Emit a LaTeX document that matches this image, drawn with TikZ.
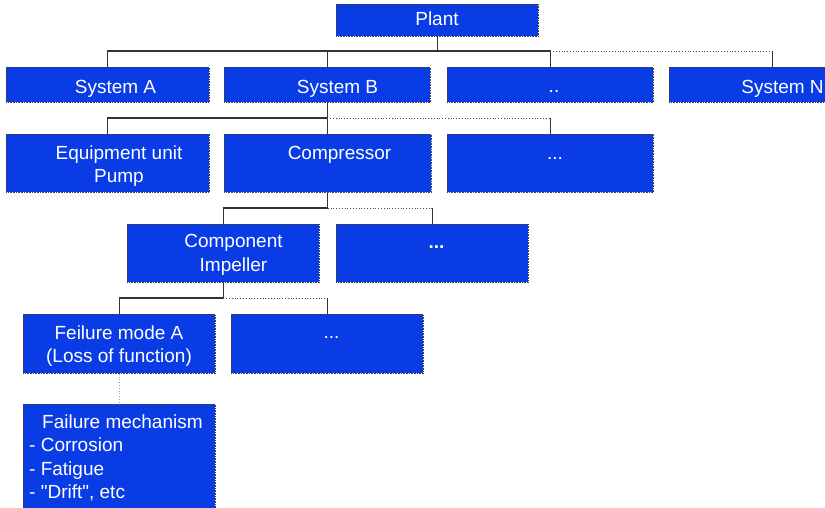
\documentclass[tikz,border=0pt]{standalone}
\usepackage{fontspec}
\setmainfont{Liberation Sans}[Ligatures=TeXOff]
\definecolor{boxblue}{RGB}{10,60,230}
\tikzset{
  blk/.style={draw=black!75, dash pattern=on 0.8pt off 0.8pt, line width=0.7pt,
    fill=boxblue, inner sep=0pt, anchor=north west},
  lbl/.style={text=white, font=\fontsize{19}{23.3}\selectfont, inner sep=0pt, align=center},
  link/.style={draw=black!80, line width=1.1pt},
  more/.style={draw=black!70, line width=0.8pt, dotted},
}
\begin{document}
\begin{tikzpicture}[x=1pt,y=-1pt]
		\useasboundingbox (0,0) rectangle (825,507);
		
		% boxes
		\node[blk, minimum width=202, minimum height=32] (plant) at (336,4) {};
		\node[blk, minimum width=203, minimum height=35] (sysA) at (6,67) {};
		\node[blk, minimum width=206, minimum height=35] (sysB) at (224,67) {};
		\node[blk, minimum width=206, minimum height=35] (sysX) at (447,67) {};
		\node[blk, minimum width=206, minimum height=35] (sysN) at (669,67) {};
		\node[blk, minimum width=203, minimum height=58] (pump) at (6,134) {};
		\node[blk, minimum width=207, minimum height=58] (comp) at (224,134) {};
		\node[blk, minimum width=206, minimum height=58] (eqX) at (447,134) {};
		\node[blk, minimum width=192, minimum height=58] (impl) at (127,224) {};
		\node[blk, minimum width=192, minimum height=58] (cmpX) at (336,224) {};
		\node[blk, minimum width=192, minimum height=59] (fmA) at (23,314) {};
		\node[blk, minimum width=192, minimum height=59] (fmX) at (231,314) {};
		\node[blk, minimum width=192, minimum height=110] (mech) at (23,404) {};
		
		% texts
		\node[lbl, anchor=base] (plantT) at (437,25) {Plant};
		\node[lbl, anchor=base] (sysAT) at (115.5,93) {System A};
		\node[lbl, anchor=base] (sysBT) at (337.5,93) {System B};
		\node[lbl, anchor=base] (sysXT) at (554,92) {..};
		\node[lbl, anchor=base] (sysNT) at (782.5,93) {System N};
		\node[lbl, anchor=north] (pumpT) at (119,145.5) {Equipment unit\\Pump};
		\node[lbl, anchor=base] (compT) at (339.5,159) {Compressor};
		\node[lbl, anchor=base] (eqXT) at (555,159) {...};
		\node[lbl, anchor=north] (implT) at (233.5,234.5) {Component\\Impeller};
		\node[lbl, anchor=base, font=\fontsize{19}{23.3}\selectfont\bfseries] (cmpXT) at (436.5,248) {...};
		\node[lbl, anchor=north] (fmAT) at (119,325.5) {Feilure mode A\\(Loss of function)};
		\node[lbl, anchor=base] (fmXT) at (331.5,338) {...};
		\node[lbl, anchor=north west, align=left] (mechT) at (29,414.5)
		  {\hspace*{13pt}Failure mechanism\\- Corrosion\\- Fatigue\\- "Drift", etc};
		
		% tree lines
		\coordinate (bus1) at (0,51);
		\coordinate (bus2) at (0,118);
		\coordinate (bus3) at (0,208);
		\coordinate (bus4) at (0,298);
		\draw[link] (plant.south) -- (plant.south |- bus1);
		\draw[link] (sysA.north) -- (sysA.north |- bus1) -- (sysX.north |- bus1) -- (sysX.north);
		\draw[link] (sysB.north) -- (sysB.north |- bus1);
		\draw[more] (sysX.north |- bus1) -- (sysN.north |- bus1);
		\draw[link] (sysN.north |- bus1) -- (sysN.north);
		
		\draw[link] (sysB.south) -- (sysB.south |- bus2) -| (pump.north);
		\draw[link] (comp.north) -- (comp.north |- bus2);
		\draw[more] (sysB.south |- bus2) -- (eqX.north |- bus2);
		\draw[link] (eqX.north |- bus2) -- (eqX.north);
		
		\draw[link] (comp.south) -- (comp.south |- bus3) -| (impl.north);
		\draw[more] (comp.south |- bus3) -- (cmpX.north |- bus3);
		\draw[link] (cmpX.north |- bus3) -- (cmpX.north);
		
		\draw[link] (impl.south) -- (impl.south |- bus4) -| (fmA.north);
		\draw[more] (impl.south |- bus4) -- (fmX.north |- bus4);
		\draw[link] (fmX.north |- bus4) -- (fmX.north);
		
		\draw[more, draw=black!40, line width=1pt] (fmA.south) -- (mech.north);
\end{tikzpicture}
\end{document}
